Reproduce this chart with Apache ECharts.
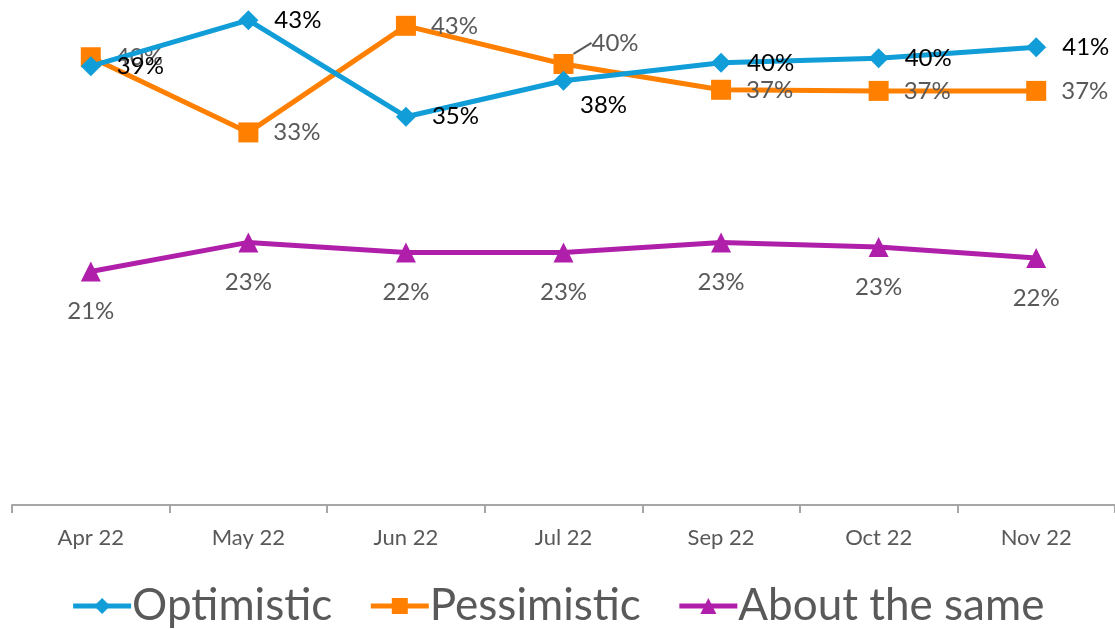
<!DOCTYPE html>
<html>
<head>
<meta charset="utf-8">
<script src="https://cdn.jsdelivr.net/npm/echarts@6/dist/echarts.min.js"></script>
<style>
  html, body { margin: 0; padding: 0; background: #fff; }
  #chart { width: 1115px; height: 629px; }
</style>
</head>
<body>
<div id="chart"></div>
<script>
const months = ['Apr 22', 'May 22', 'Jun 22', 'Jul 22', 'Sep 22', 'Oct 22', 'Nov 22']

const optimistic = [39.1, 43.2, 34.6, 37.8, 39.4, 39.8, 40.8]
const optimisticLabels = ['39%', '43%', '35%', '38%', '40%', '40%', '41%']

const pessimistic = [39.9, 33.2, 42.7, 39.3, 37.0, 36.9, 36.9]
const pessimisticLabels = ['40%', '33%', '43%', '40%', '37%', '37%', '37%']

const aboutSame = [20.8, 23.4, 22.5, 22.5, 23.4, 23.0, 22.0]
const aboutSameLabels = ['21%', '23%', '22%', '23%', '23%', '23%', '22%']

const FONT = 'Lato, "Open Sans", sans-serif'

const chart = echarts.init(document.getElementById('chart'))

// Jul 22 optimistic label sits under the point, the rest to the right
const optData = optimistic.map((v, i) => {
  if (i === 3) {
    return { value: v, label: { position: 'bottom', distance: 6, offset: [40, -4] } }
  }
  return v
})

// Jul 22 pessimistic label is pulled up with a small leader line
const pesData = pessimistic.map((v, i) => {
  if (i === 3) {
    return { value: v, labelLine: { show: true } }
  }
  return v
})

const option = {
  animation: false,
  textStyle: { fontFamily: FONT },
  grid: { left: 12, right: 0, top: 0, bottom: 124 },
  xAxis: {
    type: 'category',
    data: months,
    boundaryGap: true,
    axisLine: { lineStyle: { color: '#a6a6a6', width: 2 } },
    axisTick: { show: true, length: 8, lineStyle: { color: '#a6a6a6', width: 2 } },
    axisLabel: { color: '#595959', fontSize: 22, margin: 22, fontFamily: FONT },
  },
  yAxis: {
    type: 'value',
    min: 0,
    max: 45,
    show: false,
    splitLine: { show: false },
  },
  legend: {
    top: 579,
    left: 'center',
    itemWidth: 58,
    itemHeight: 20,
    itemGap: 36,
    lineStyle: { width: 5 },
    textStyle: { color: '#595959', fontSize: 44, fontFamily: FONT, padding: [0, 0, 0, -4] },
    data: ['Optimistic', 'Pessimistic', 'About the same'],
  },
  series: [
    {
      name: 'Optimistic',
      type: 'line',
      data: optData,
      symbol: 'diamond',
      symbolSize: 20,
      lineStyle: { width: 5, color: '#109DD8' },
      itemStyle: { color: '#109DD8' },
      label: {
        show: true,
        position: 'right',
        distance: 16,
        color: '#000',
        fontSize: 24,
        formatter: p => optimisticLabels[p.dataIndex],
      },
      z: 3,
    },
    {
      name: 'Pessimistic',
      type: 'line',
      data: pesData,
      symbol: 'rect',
      symbolSize: 20,
      lineStyle: { width: 5, color: '#FF8000' },
      itemStyle: { color: '#FF8000' },
      label: {
        show: true,
        position: 'right',
        distance: 15,
        color: '#595959',
        fontSize: 24,
        formatter: p => pessimisticLabels[p.dataIndex],
      },
      labelLine: { show: false, lineStyle: { color: '#595959', width: 2 } },
      labelLayout: p => (p.dataIndex === 3 ? { dx: 3, dy: -21 } : {}),
      z: 2,
    },
    {
      name: 'About the same',
      type: 'line',
      data: aboutSame,
      symbol: 'triangle',
      symbolSize: 20,
      lineStyle: { width: 5, color: '#B01FAA' },
      itemStyle: { color: '#B01FAA' },
      label: {
        show: true,
        position: 'bottom',
        distance: 18,
        color: '#595959',
        fontSize: 24,
        formatter: p => aboutSameLabels[p.dataIndex],
      },
      z: 1,
    },
  ],
}

chart.setOption(option)
window.addEventListener('resize', () => chart.resize())
</script>
</body>
</html>
